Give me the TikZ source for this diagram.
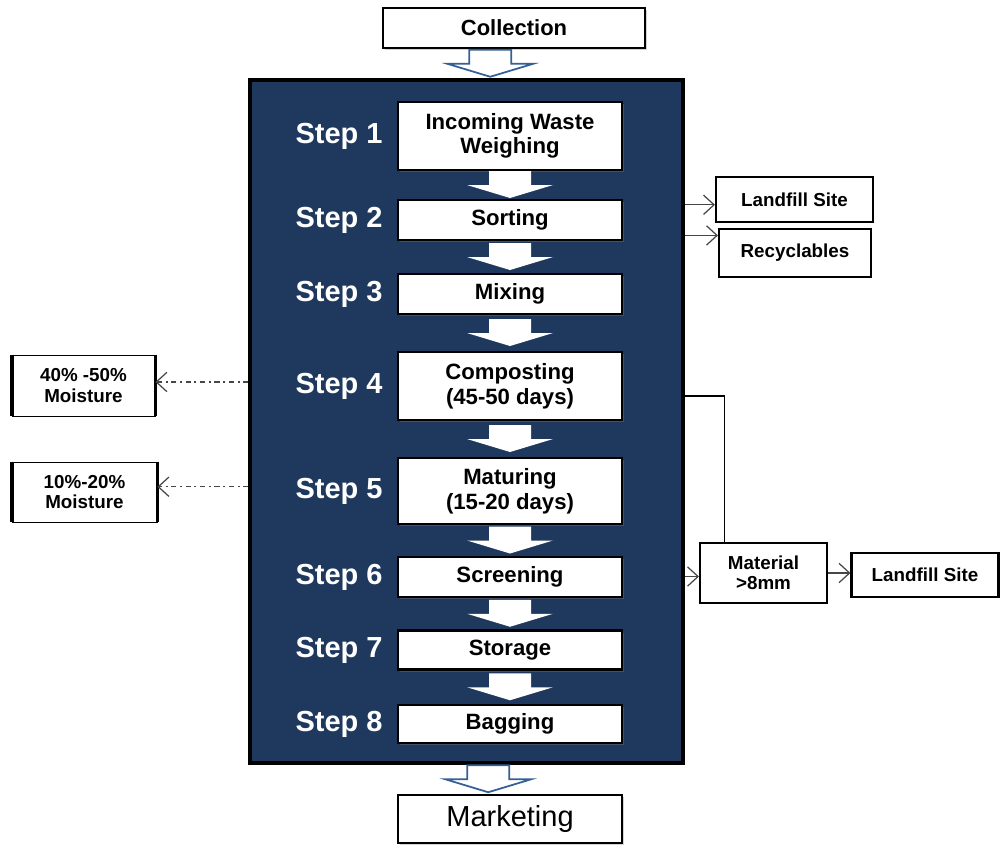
\documentclass[tikz,border=0pt]{standalone}
\usepackage{fontspec}
\setmainfont{Liberation Sans}
\usetikzlibrary{arrows.meta,calc,positioning,shadows}
\definecolor{panelblue}{RGB}{31,57,94}
\definecolor{arrowblue}{RGB}{52,96,150}

\tikzset{
  stepbox/.style={draw=black, line width=1.2pt, fill=white, minimum width=4.48cm,
    align=center, inner sep=1pt, font=\bfseries\fontsize{12.6}{14}\selectfont,
    drop shadow={opacity=0.35, shadow xshift=1.2pt, shadow yshift=-1.2pt}},
  steplabel/.style={text=white, inner sep=0pt, font=\bfseries\fontsize{16.5}{18}\selectfont},
  sidebox/.style={draw=black, line width=1.2pt, fill=white, align=center,
    inner sep=1pt, font=\bfseries\fontsize{10.7}{11.5}\selectfont},
  endbox/.style={draw=black, line width=1.2pt, fill=white, align=center,
    drop shadow={opacity=0.35, shadow xshift=1.2pt, shadow yshift=-1.2pt}},
  flowarrow/.style={-{Straight Barb[length=6pt,width=11pt]}, gray!55!black, line width=0.7pt},
  dasharrow/.style={flowarrow, dash pattern=on 3pt off 2pt on 1.2pt off 2pt},
  blockarrow/.pic={
    \path[pic actions] (-21,-14) -- (21,-14) -- (21,0) -- (43,0) -- (0,13)
      -- (-43,0) -- (-21,0) -- cycle;
  }
}

\begin{document}
\begin{tikzpicture}[x=0.02cm, y=-0.02cm]
\useasboundingbox (0,0) rectangle (1000,845);

% panel
\node[draw=black, line width=1.8pt, fill=panelblue, minimum width=8.66cm,
  minimum height=13.66cm, inner sep=0pt] (panel) at (466.5,421.5) {};

% outer boxes
\node[endbox, minimum width=5.24cm, minimum height=0.8cm,
  font=\bfseries\fontsize{12.5}{14}\selectfont] (col) at (514,28) {Collection};
\node[endbox, minimum width=4.48cm, minimum height=0.96cm,
  font=\fontsize{16.5}{18}\selectfont] (mkt) at (510,819) {Marketing};

% steps
\node[stepbox, minimum height=1.36cm] (s1) at (510,136) {Incoming Waste\\Weighing};
\node[stepbox, minimum height=0.8cm] (s2) at (510,220) {Sorting};
\node[stepbox, minimum height=0.8cm] (s3) at (510,294) {Mixing};
\node[stepbox, minimum height=1.36cm] (s4) at (510,386) {Composting\\(45-50 days)};
\node[stepbox, minimum height=1.32cm] (s5) at (510,491) {Maturing\\(15-20 days)};
\node[stepbox, minimum height=0.8cm] (s6) at (510,577) {Screening};
\node[stepbox, minimum height=0.78cm] (s7) at (510,650) {Storage};
\node[stepbox, minimum height=0.76cm] (s8) at (510,724) {Bagging};

\foreach \i in {1,...,8}
  \node[steplabel, left=0.28cm of s\i] (l\i) {Step \i};

% arrows between steps
\foreach \a/\b in {s1/s2,s2/s3,s3/s4,s4/s5,s5/s6,s6/s7,s7/s8}
  \pic[fill=white] at ($(\a.south)!0.5!(\b.north)$) {blockarrow};
\pic[fill=white, draw=arrowblue, line width=1pt] at ($(col.south)!0.5!(panel.north)$) {blockarrow};
\pic[fill=white, draw=arrowblue, line width=1pt] at ($(panel.south)!0.5!(mkt.north)$) {blockarrow};

% side boxes
\node[sidebox, minimum width=3.14cm, minimum height=0.9cm] (ls1) at (794.5,199.5) {Landfill Site};
\node[sidebox, minimum width=3.04cm, minimum height=0.96cm] (rec) at (795,253) {Recyclables};
\node[sidebox, line width=0.5pt, minimum width=2.86cm, minimum height=1.22cm] (m1) at (83.5,385.5) {40\% -50\%\\Moisture};
\node[sidebox, line width=0.5pt, minimum width=2.9cm, minimum height=1.2cm] (m2) at (84.5,492) {10\%-20\%\\Moisture};
\node[sidebox, minimum width=2.54cm, minimum height=1.2cm] (mat) at (763.5,573) {Material\\>8mm};
\node[sidebox, minimum width=2.94cm, minimum height=0.88cm] (ls2) at (925,575) {Landfill Site};

\draw[line width=2.2pt] (m1.north west) -- (m1.south west);
\draw[line width=1.5pt] (m1.north east) -- (m1.south east);
\draw[line width=2.2pt] (m2.north west) -- (m2.south west);
\draw[line width=1.5pt] (m2.north east) -- (m2.south east);

% connectors
\draw[flowarrow] ([yshift=-3pt]panel.east |- ls1.west) -- ([yshift=-3pt]ls1.west);
\draw[flowarrow] ([yshift=10pt]panel.east |- rec.west) -- ([yshift=10pt]rec.west);
\draw[dasharrow] ([yshift=2pt]panel.west |- m1.east) -- ([yshift=2pt]m1.east);
\draw[dasharrow] ([yshift=3pt]panel.west |- m2.east) -- ([yshift=3pt]m2.east);
\coordinate (c4) at (683,396);
\draw[black, line width=0.7pt] (c4) -| ($(mat.north west)!0.2!(mat.north east)$);
\draw[flowarrow] ([yshift=-2pt]panel.east |- mat.west) -- ([yshift=-2pt]mat.west);
\draw[flowarrow] (mat.east) -- (mat.east -| ls2.west);

\end{tikzpicture}
\end{document}
